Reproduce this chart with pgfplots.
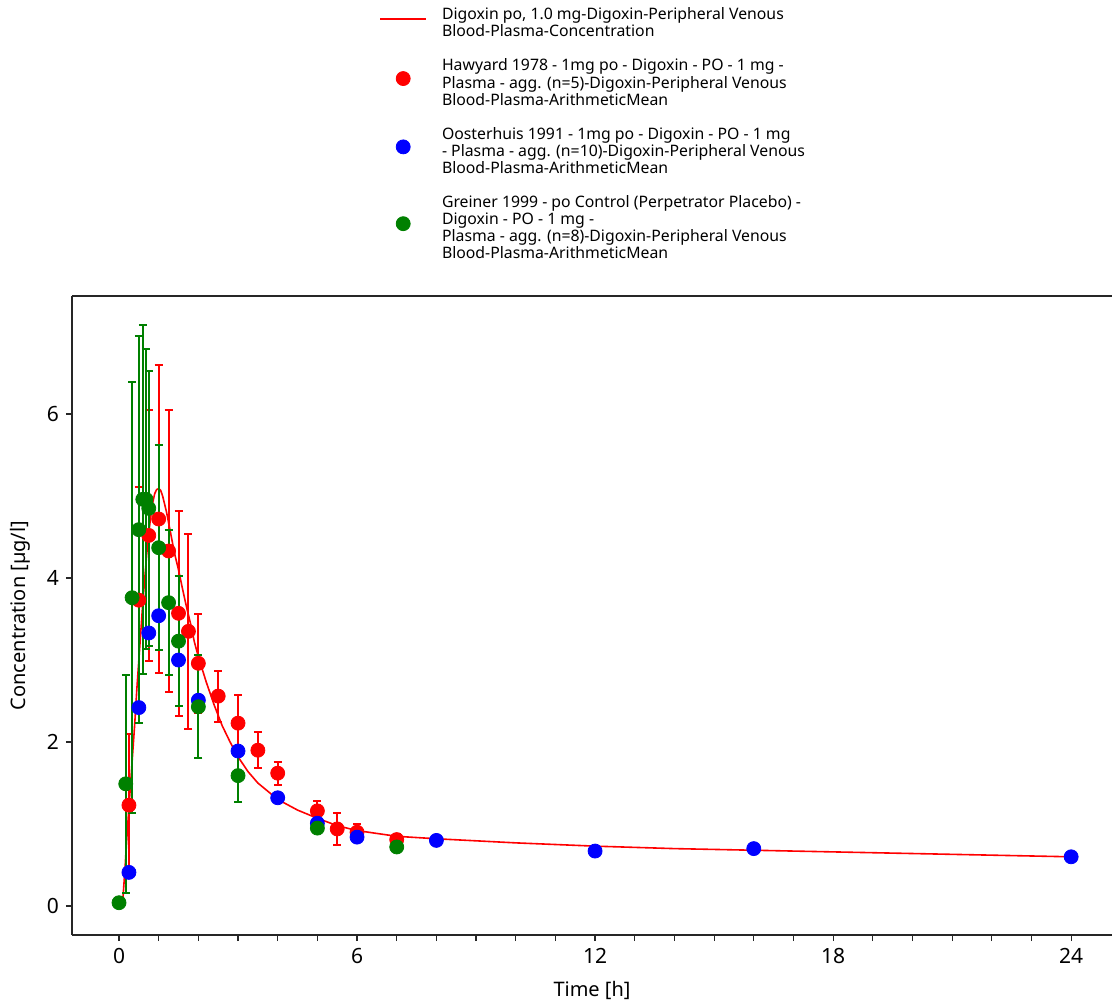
\documentclass[border=0pt]{standalone}
\usepackage{fontspec}
\setmainfont{Noto Sans}
\usepackage{pgfplots}
\pgfplotsset{compat=1.18}
\usepackage{pgfplotstable}

\definecolor{simred}{RGB}{255,0,0}
\definecolor{obsred}{RGB}{255,0,0}
\definecolor{obsblue}{RGB}{0,0,255}
\definecolor{obsgreen}{RGB}{0,128,0}

\pgfplotstableread{
t c
0.08 0.00
0.10 0.10
0.15 0.45
0.20 0.85
0.25 1.20
0.30 1.55
0.35 1.90
0.40 2.25
0.45 2.65
0.50 3.00
0.55 3.35
0.60 3.70
0.65 4.00
0.70 4.30
0.75 4.55
0.80 4.75
0.85 4.92
0.90 5.03
0.95 5.08
1.00 5.09
1.05 5.07
1.10 5.00
1.20 4.80
1.30 4.55
1.40 4.30
1.50 4.10
1.60 3.87
1.70 3.65
1.80 3.45
1.90 3.22
2.00 3.04
2.20 2.73
2.40 2.45
2.60 2.20
2.80 2.00
3.00 1.82
3.25 1.64
3.50 1.50
4.00 1.30
4.50 1.17
5.00 1.07
5.50 0.98
6.00 0.92
7.00 0.85
8.00 0.82
10.0 0.77
12.0 0.73
14.0 0.70
16.0 0.68
18.0 0.66
20.0 0.64
22.0 0.62
24.0 0.60
}\sim

\pgfplotstableread{
t c err
0.25 1.23 0.87
0.50 3.73 1.38
0.75 4.52 1.53
1.00 4.72 1.88
1.25 4.33 1.72
1.50 3.57 1.25
1.75 3.35 1.19
2.00 2.96 0.60
2.50 2.56 0.31
3.00 2.23 0.34
3.50 1.90 0.22
4.00 1.62 0.14
5.00 1.16 0.12
5.50 0.94 0.20
6.00 0.90 0.10
7.00 0.81 0.07
}\hawyard

\pgfplotstableread{
t c
0.25 0.41
0.50 2.42
0.75 3.33
1.00 3.54
1.50 3.00
2.00 2.51
3.00 1.89
4.00 1.32
5.00 1.01
6.00 0.84
8.00 0.80
12.0 0.67
16.0 0.70
24.0 0.60
}\oosterhuis

\pgfplotstableread{
t c err
0.00 0.04 0.00
0.17 1.49 1.33
0.33 3.76 2.63
0.50 4.59 2.36
0.60 4.96 2.13
0.68 4.96 1.83
0.75 4.85 1.68
1.00 4.37 1.25
1.25 3.70 0.88
1.50 3.23 0.79
2.00 2.43 0.63
3.00 1.59 0.32
5.00 0.95 0.00
7.00 0.72 0.00
}\greiner

\newcommand{\pad}{\rule{0pt}{12pt}}

\begin{document}
\begin{tikzpicture}
\begin{axis}[
  name=ax,
  scale only axis, width=520pt, height=319.5pt,
  clip=false,
  xmin=-1.185, xmax=25.03, ymin=-0.354, ymax=7.44,
  axis x line=box, axis y line=left,
  axis line style={-, line width=0.75pt, black!85},
  xtick={0,6,12,18,24}, minor x tick num=5, ytick={0,2,4,6},
  xtick pos=lower, ytick pos=left,
  tick align=outside, major tick length=3pt, minor tick length=3pt,
  tick style={black!85, line width=0.6pt},
  ticklabel style={font=\fontsize{10.5}{12}\selectfont},
  /pgf/number format/assume math mode=true,
  xlabel={Time [h]}, ylabel={Concentration [µg/l]},
  label style={font=\fontsize{10}{12}\selectfont},
  xlabel style={at={(axis description cs:0.5,-0.0861)}, anchor=center},
  ylabel style={at={(axis description cs:-0.05,0.5)}, anchor=center, rotate=0},
  legend style={draw=none, fill=none, inner sep=0pt,
    at={(axis description cs:0.2952,1.4737)}, anchor=north west,
    font=\fontsize{7.9}{8.5}\selectfont, row sep=0.5pt, column sep=6.5pt,
    nodes={inner sep=1pt, text depth=}, cells={anchor=west}},
  legend image code/.code={\draw[mark repeat=2, mark phase=2, #1] plot coordinates {(0pt,0pt) (11.5pt,0pt) (23pt,0pt)};},
]
\addplot[simred, line width=0.8pt, no markers] table[x=t, y=c] {\sim};
\addlegendentry{\begin{tabular}{@{}l@{}}\pad Digoxin po, 1.0 mg-Digoxin-Peripheral Venous\\Blood-Plasma-Concentration\end{tabular}}

\addplot[obsred, only marks, mark=*, mark size=3.5pt, mark options={draw=obsred, fill=obsred},
  error bars/.cd, y dir=both, y explicit, error mark=-,
  error bar style={line width=1pt, obsred}, error mark options={rotate=90, line width=1pt, obsred, mark size=2pt}]
  table[x=t, y=c, y error=err] {\hawyard};
\addlegendentry{\begin{tabular}{@{}l@{}}\pad Hawyard 1978 - 1mg po - Digoxin - PO - 1 mg -\\Plasma - agg. (n=5)-Digoxin-Peripheral Venous\\Blood-Plasma-ArithmeticMean\end{tabular}}

\addplot[obsblue, only marks, mark=*, mark size=3.5pt, mark options={draw=obsblue, fill=obsblue}]
  table[x=t, y=c] {\oosterhuis};
\addlegendentry{\begin{tabular}{@{}l@{}}\pad Oosterhuis 1991 - 1mg po - Digoxin - PO - 1 mg\\- Plasma - agg. (n=10)-Digoxin-Peripheral Venous\\Blood-Plasma-ArithmeticMean\end{tabular}}

\addplot[obsgreen, only marks, mark=*, mark size=3.5pt, mark options={draw=obsgreen, fill=obsgreen},
  error bars/.cd, y dir=both, y explicit, error mark=-,
  error bar style={line width=1pt, obsgreen}, error mark options={rotate=90, line width=1pt, obsgreen, mark size=2pt}]
  table[x=t, y=c, y error=err] {\greiner};
\addlegendentry{\begin{tabular}{@{}l@{}}\pad Greiner 1999 - po Control (Perpetrator Placebo) -\\Digoxin - PO - 1 mg -\\Plasma - agg. (n=8)-Digoxin-Peripheral Venous\\Blood-Plasma-ArithmeticMean\end{tabular}}
\end{axis}
\pgfresetboundingbox
\path[use as bounding box] ([xshift=-36pt,yshift=-36pt]ax.south west) rectangle ([yshift=148pt]ax.north east);
\end{tikzpicture}
\end{document}
